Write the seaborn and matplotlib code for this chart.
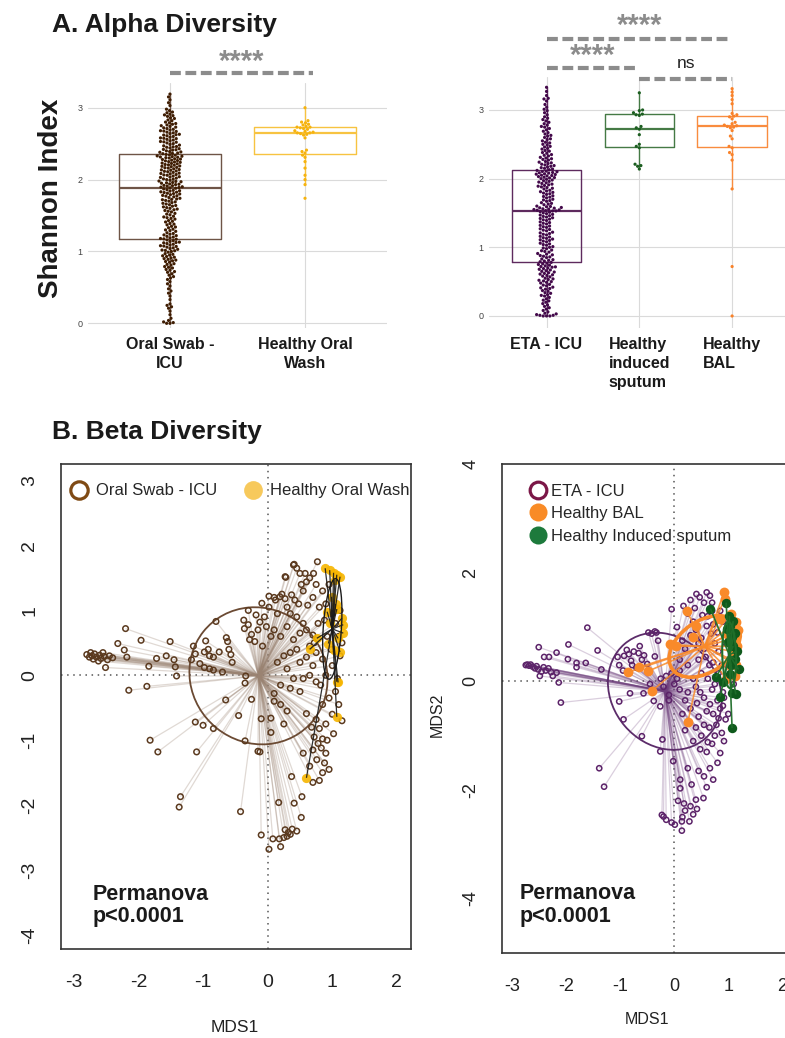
import numpy as np
import pandas as pd
import matplotlib
matplotlib.use("Agg")
import matplotlib.pyplot as plt
from matplotlib.collections import LineCollection
from matplotlib.patches import Ellipse
from matplotlib.lines import Line2D
import seaborn as sns

sns.set_style("white")
plt.rcParams["font.family"] = ["Liberation Sans", "DejaVu Sans"]

W, H = 785, 1038

# ---------------------------------------------------------------- data
oral_categories = ["Oral Swab -\nICU", "Healthy Oral\nWash"]
lower_categories = ["ETA - ICU", "Healthy\ninduced\nsputum", "Healthy\nBAL"]

shannon_oral_swab_icu = [
    0.00, 0.00, 0.01, 0.02, 0.04, 0.07, 0.12, 0.17, 0.21, 0.23,
    0.25, 0.27, 0.33, 0.38, 0.42, 0.45, 0.48, 0.52, 0.55, 0.58,
    0.61, 0.63, 0.65, 0.67, 0.69, 0.71, 0.72, 0.74, 0.75, 0.77,
    0.78, 0.79, 0.81, 0.82, 0.83, 0.85, 0.86, 0.87, 0.88, 0.89,
    0.90, 0.91, 0.92, 0.93, 0.94, 0.95, 0.96, 0.97, 0.99, 1.00,
    1.01, 1.015, 1.02, 1.03, 1.04, 1.05, 1.06, 1.07, 1.075, 1.08,
    1.09, 1.10, 1.11, 1.12, 1.125, 1.13, 1.14, 1.15, 1.16, 1.17,
    1.175, 1.18, 1.19, 1.20, 1.21, 1.22, 1.23, 1.24, 1.25, 1.26,
    1.28, 1.29, 1.30, 1.31, 1.33, 1.34, 1.35, 1.37, 1.38, 1.39,
    1.41, 1.42, 1.43, 1.45, 1.46, 1.47, 1.48, 1.49, 1.51, 1.52,
    1.53, 1.55, 1.56, 1.57, 1.58, 1.59, 1.60, 1.61, 1.62, 1.63,
    1.64, 1.65, 1.66, 1.67, 1.68, 1.69, 1.70, 1.71, 1.72, 1.725,
    1.73, 1.74, 1.75, 1.76, 1.77, 1.775, 1.78, 1.79, 1.80, 1.805,
    1.81, 1.82, 1.825, 1.83, 1.84, 1.845, 1.85, 1.86, 1.87, 1.88,
    1.885, 1.89, 1.895, 1.90, 1.91, 1.915, 1.92, 1.93, 1.935, 1.94,
    1.95, 1.955, 1.96, 1.97, 1.975, 1.98, 1.99, 2.00, 2.005, 2.01,
    2.02, 2.03, 2.035, 2.04, 2.05, 2.06, 2.065, 2.07, 2.08, 2.085,
    2.09, 2.10, 2.11, 2.115, 2.12, 2.13, 2.135, 2.14, 2.15, 2.16,
    2.165, 2.17, 2.18, 2.185, 2.19, 2.20, 2.205, 2.21, 2.22, 2.225,
    2.23, 2.24, 2.245, 2.25, 2.26, 2.265, 2.27, 2.28, 2.285, 2.29,
    2.30, 2.305, 2.31, 2.315, 2.32, 2.325, 2.33, 2.34, 2.345, 2.35,
    2.36, 2.365, 2.37, 2.38, 2.385, 2.39, 2.40, 2.41, 2.415, 2.42,
    2.43, 2.44, 2.45, 2.455, 2.46, 2.47, 2.48, 2.49, 2.50, 2.51,
    2.52, 2.525, 2.53, 2.54, 2.55, 2.56, 2.57, 2.575, 2.58, 2.59,
    2.60, 2.61, 2.62, 2.625, 2.63, 2.64, 2.65, 2.66, 2.67, 2.675,
    2.68, 2.69, 2.70, 2.71, 2.72, 2.73, 2.74, 2.75, 2.76, 2.77,
    2.78, 2.79, 2.80, 2.82, 2.83, 2.85, 2.86, 2.88, 2.89, 2.90,
    2.91, 2.93, 2.94, 2.96, 2.98, 3.03, 3.07, 3.11, 3.15, 3.19,
]
shannon_healthy_oral_wash = [
    1.74, 1.93, 2.00, 2.06, 2.16, 2.25, 2.31, 2.34, 2.37, 2.39, 2.41,
    2.58, 2.62, 2.63, 2.64, 2.65, 2.65, 2.66, 2.67, 2.68, 2.70, 2.71,
    2.72, 2.73, 2.73, 2.74, 2.76, 2.77, 2.79, 2.80, 2.82, 3.00,
]
shannon_eta_icu = [
    0.00, 0.00, 0.00, 0.01, 0.01, 0.02, 0.03, 0.04, 0.06, 0.08,
    0.10, 0.12, 0.14, 0.16, 0.18, 0.20, 0.22, 0.23, 0.25, 0.27,
    0.29, 0.30, 0.31, 0.33, 0.34, 0.36, 0.37, 0.39, 0.40, 0.41,
    0.42, 0.44, 0.45, 0.46, 0.48, 0.49, 0.50, 0.51, 0.52, 0.53,
    0.54, 0.55, 0.57, 0.58, 0.59, 0.60, 0.61, 0.62, 0.63, 0.64,
    0.65, 0.66, 0.67, 0.68, 0.69, 0.70, 0.71, 0.715, 0.72, 0.73,
    0.74, 0.75, 0.76, 0.77, 0.78,
    0.79, 0.80, 0.81, 0.82, 0.83, 0.85, 0.86, 0.87, 0.88, 0.89,
    0.90, 0.91, 0.93, 0.94, 0.95, 0.96, 0.98, 0.99, 1.00, 1.01,
    1.03, 1.04, 1.05, 1.06, 1.08, 1.09, 1.10, 1.11, 1.12, 1.13,
    1.14, 1.15, 1.16, 1.18, 1.19, 1.20, 1.21, 1.22, 1.24, 1.25,
    1.26, 1.27, 1.29, 1.30, 1.31, 1.32, 1.34, 1.35, 1.36, 1.37,
    1.39, 1.40, 1.41, 1.42, 1.43, 1.44, 1.45, 1.46, 1.47, 1.48,
    1.49, 1.50, 1.51, 1.52, 1.53,
    1.53, 1.535, 1.54, 1.545, 1.55, 1.555, 1.56, 1.57, 1.575, 1.58,
    1.59, 1.595, 1.60, 1.62, 1.63, 1.64, 1.65, 1.67, 1.68, 1.69,
    1.70, 1.72, 1.73, 1.74, 1.75, 1.77, 1.78, 1.79, 1.80, 1.81,
    1.82, 1.83, 1.85, 1.86, 1.87, 1.88, 1.89, 1.90, 1.91, 1.92,
    1.93, 1.94, 1.95, 1.96, 1.97, 1.98, 1.99, 2.00, 2.01, 2.015,
    2.02, 2.03, 2.04, 2.045, 2.05, 2.06, 2.065, 2.07, 2.08, 2.085,
    2.09, 2.10, 2.105, 2.11, 2.12,
    2.13, 2.14, 2.15, 2.16, 2.17, 2.18, 2.19, 2.20, 2.21, 2.22,
    2.23, 2.24, 2.25, 2.27, 2.28, 2.29, 2.30, 2.31, 2.33, 2.34,
    2.35, 2.37, 2.38, 2.40, 2.41, 2.43, 2.44, 2.46, 2.47, 2.49,
    2.50, 2.52, 2.53, 2.55, 2.57, 2.58, 2.60, 2.62, 2.63, 2.65,
    2.67, 2.69, 2.71, 2.73, 2.75, 2.76, 2.78, 2.80, 2.82, 2.84,
    2.86, 2.88, 2.90, 2.93, 2.96, 2.99, 3.01, 3.04, 3.08, 3.13,
    3.16, 3.17, 3.21, 3.27, 3.33,
]
shannon_healthy_sputum = [
    2.14, 2.18, 2.19, 2.21, 2.45, 2.47, 2.50, 2.64, 2.72,
    2.74, 2.76, 2.92, 2.93, 2.94, 2.96, 2.99, 3.00, 3.25,
]
shannon_healthy_bal = [
    0.00, 0.72, 1.85, 2.27, 2.35, 2.38, 2.45, 2.47, 2.58, 2.62,
    2.70, 2.74, 2.75, 2.76, 2.77, 2.78, 2.80, 2.82, 2.87, 2.90,
    2.91, 2.93, 2.95, 3.09, 3.15, 3.21, 3.26, 3.31,
]

oral_comparisons = [(0, 1, "****")]
lower_comparisons = [(0, 2, "****"), (0, 1, "****"), (1, 2, "ns")]

# MDS coordinates (MDS1, MDS2)
mds_oral_swab_icu = [
    (-2.80, 0.32), (-2.76, 0.28), (-2.74, 0.35), (-2.72, 0.30), (-2.70, 0.25),
    (-2.68, 0.33), (-2.65, 0.28), (-2.62, 0.22), (-2.60, 0.31), (-2.58, 0.26),
    (-2.55, 0.35), (-2.53, 0.29), (-2.51, 0.12), (-2.48, 0.24), (-2.45, 0.30),
    (-2.40, 0.27),
    (-2.32, 0.49), (-2.22, 0.39), (-2.20, 0.72), (-2.18, 0.28), (-2.15, -0.23),
    (-1.96, 0.54), (-1.87, -0.17), (-1.84, 0.14), (-1.72, 0.26), (-1.57, 0.30),
    (-1.51, 0.52), (-1.43, 0.13), (-1.41, -0.01), (-1.45, 0.24),
    (-1.15, 0.45), (-1.12, 0.33), (-1.18, 0.24), (-0.96, 0.53), (-0.92, 0.40),
    (-0.98, 0.36), (-0.90, 0.30), (-0.84, 0.28), (-0.75, 0.36), (-0.64, 0.58),
    (-0.62, 0.52), (-0.60, 0.40), (-0.57, 0.32), (-1.05, 0.18), (-0.98, 0.12),
    (-0.90, 0.10), (-0.84, 0.08), (-0.70, 0.05), (-0.80, 0.83), (-0.55, 0.20),
    (-0.37, 0.85), (-0.36, 0.72), (-0.30, 0.78), (-0.25, 0.63), (-0.20, 0.52),
    (-0.15, 0.70), (-0.28, 0.55), (-0.30, 1.00), (-0.09, 1.11), (-0.18, 0.93),
    (-0.12, 0.82), (-0.05, 0.90), (0.02, 1.05), (-0.02, 0.75), (0.05, 0.60),
    (-0.08, 0.45),
    (0.02, 1.22), (0.10, 1.20), (0.12, 1.16), (0.22, 1.25), (0.27, 1.18),
    (0.19, 1.21), (0.37, 1.24), (0.42, 1.16), (0.28, 1.51), (0.27, 1.52),
    (0.40, 1.70), (0.45, 1.65), (0.41, 1.71), (0.50, 1.57), (0.58, 1.57),
    (0.71, 1.57), (0.77, 1.75), (0.60, 1.44), (0.52, 1.40), (0.65, 1.50),
    (0.55, 1.30), (0.48, 1.10), (0.62, 1.08), (0.70, 1.20), (0.75, 1.40),
    (0.80, 1.05), (0.35, 0.95), (0.45, 0.90), (0.30, 1.05), (0.15, 0.95),
    (0.10, 0.70), (0.20, 0.60), (0.30, 0.75), (0.40, 0.55), (0.50, 0.65),
    (0.55, 0.80), (0.60, 0.70), (0.70, 0.62), (0.65, 0.45), (0.45, 0.40),
    (0.35, 0.35), (0.25, 0.30), (0.15, 0.20), (0.30, 0.10), (0.50, 0.20),
    (0.60, 0.28), (0.70, 0.15), (0.75, 0.35), (0.40, -0.05), (0.55, -0.05),
    (0.65, 0.00), (0.75, -0.10), (0.20, -0.15), (0.35, -0.20), (0.10, -0.28),
    (0.50, -0.25), (0.72, 0.50), (0.78, 0.80),
    (0.85, 1.30), (0.90, 1.10), (0.95, 1.40), (1.00, 0.95), (0.88, 0.85),
    (1.05, 0.80), (1.10, 0.60), (0.92, 0.60), (0.98, 0.40), (1.12, 0.30),
    (0.85, 0.25), (1.00, 0.15), (1.08, -0.05), (0.90, 0.00), (0.82, -0.15),
    (1.05, -0.25), (0.95, -0.35), (1.10, -0.45), (0.85, -0.45), (1.00, -0.60),
    (1.15, -0.70), (0.90, -0.75), (1.02, -0.90), (1.12, 1.00), (1.15, 0.50),
    (0.60, -0.59), (0.75, -0.68), (0.68, -0.80), (0.80, -0.82), (0.72, -0.95),
    (0.85, -0.98), (0.78, -1.05), (0.92, -1.00), (0.70, -1.15), (0.83, -1.12),
    (0.90, -1.20), (0.76, -1.30), (0.88, -1.35), (0.85, -1.50), (0.80, -1.62),
    (0.70, -1.65), (0.95, -1.45), (0.65, -1.40), (0.37, -1.56), (0.55, -1.20),
    (-0.34, -0.01), (-0.35, -0.12), (-0.65, -0.38), (-0.25, -0.37), (-0.45, -0.62),
    (-1.12, -0.72), (-1.00, -0.77), (-0.84, -0.82), (-0.10, -0.67), (0.05, -0.66),
    (0.05, -0.88), (-0.35, -1.01), (-0.15, -1.17), (-0.12, -1.18), (0.20, -0.45),
    (0.30, -0.55), (0.25, -0.75), (0.10, -0.40), (-1.82, -1.00), (-1.70, -1.18),
    (-1.10, -1.18),
    (-1.35, -1.87), (-1.37, -2.03), (-0.42, -2.10), (0.17, -1.96), (0.41, -1.97),
    (0.53, -1.87), (0.52, -2.19), (0.27, -2.38), (0.32, -2.42), (0.38, -2.37),
    (0.45, -2.40), (0.30, -2.48), (0.25, -2.50), (0.35, -2.45), (-0.10, -2.46),
    (0.08, -2.52), (0.20, -2.64), (0.02, -2.68), (0.18, -2.52),
]
mds_healthy_oral_wash = [
    (0.89, 1.65), (0.96, 1.62), (1.02, 1.58), (1.07, 1.55), (1.12, 1.52),
    (1.04, 1.47), (0.99, 1.21), (1.05, 1.10), (1.07, 1.02), (0.92, 0.98),
    (1.15, 0.88), (1.17, 0.78), (0.97, 0.80), (1.17, 0.65), (1.09, 0.57),
    (0.76, 0.57), (0.94, 0.49), (0.65, 0.40), (1.02, 0.39), (1.12, 0.36),
    (1.07, -0.10), (1.09, -0.11), (1.07, -0.64), (0.60, -1.58),
]
mds_eta_icu = [
    (-2.75, 0.30), (-2.72, 0.31), (-2.69, 0.29), (-2.66, 0.31), (-2.62, 0.27),
    (-2.58, 0.24), (-2.55, 0.28), (-2.52, 0.22), (-2.49, 0.10), (-2.46, 0.18),
    (-2.42, 0.26), (-2.38, 0.20), (-2.33, 0.24), (-2.28, 0.17), (-2.18, 0.16),
    (-2.25, 0.10),
    (-2.51, 0.63), (-2.41, 0.45), (-2.32, 0.45), (-2.18, 0.53), (-1.96, 0.68),
    (-1.97, 0.41), (-1.81, 0.34), (-1.64, 0.34), (-1.81, 0.26), (-1.61, 0.99),
    (-1.42, 0.57), (-1.35, 0.22), (-2.14, -0.02), (-2.10, -0.39), (-1.39, -1.60),
    (-1.30, -1.94),
    (-1.05, 0.45), (-1.02, 0.30), (-0.93, 0.47), (-0.88, 0.58), (-0.84, 0.50),
    (-0.80, 0.38), (-0.78, 0.30), (-0.75, 0.55), (-0.66, 0.52), (-0.60, 0.40),
    (-0.56, 0.48), (-0.50, 0.32), (-0.48, 0.20), (-0.64, 0.65), (-0.48, 0.90),
    (-0.42, 0.88), (-0.36, 0.92), (-0.33, 0.90), (-0.36, 0.46), (-0.30, 0.75),
    (-0.95, 0.20), (-0.70, 0.25),
    (-1.02, -0.37), (-0.82, -0.22), (-0.57, -0.22), (-0.38, -0.36), (-0.26, -0.46),
    (-0.94, -0.70), (-0.60, -1.01), (-0.22, -1.07), (-0.26, -1.29), (-0.45, -0.05),
    (-0.20, -0.10), (-0.10, -0.25),
    (-0.05, 1.33), (0.17, 1.39), (0.41, 1.61), (0.47, 1.55), (0.55, 1.45),
    (0.60, 1.64), (0.66, 1.58), (0.70, 1.45), (0.25, 1.25), (0.35, 1.10),
    (0.30, 0.85), (0.15, 0.75), (0.40, 0.95), (0.50, 0.80), (0.62, 1.20),
    (0.72, 1.05), (0.80, 0.90), (0.05, 1.00), (0.20, 0.60), (0.55, 0.60),
    (0.75, 0.70), (0.65, 0.30), (0.45, 0.40), (0.25, 0.30), (0.10, 0.40),
    (0.10, -0.15), (0.25, -0.20), (0.40, -0.10), (0.55, -0.30), (0.70, -0.15),
    (0.80, -0.35), (0.60, -0.55), (0.72, -0.60), (0.85, -0.50), (0.45, -0.65),
    (0.30, -0.50), (0.15, -0.60), (0.65, -0.85), (0.78, -0.80), (0.88, -0.95),
    (0.50, -1.00), (0.35, -1.10), (0.70, -1.15), (0.85, -1.32), (0.60, -1.30),
    (0.20, -0.90), (0.90, -0.20), (0.95, -0.70),
    (-0.02, -1.47), (0.11, -1.81), (0.32, -1.90), (0.11, -1.97), (0.72, -1.81),
    (0.54, -2.15), (0.60, -1.95), (0.45, -1.65), (0.25, -1.60), (0.07, -2.20),
    (0.18, -2.25), (0.30, -2.30), (0.40, -2.18), (0.20, -2.38), (0.35, -2.45),
    (0.15, -2.50), (0.28, -2.58), (-0.20, -2.49), (-0.23, -2.46), (-0.15, -2.55),
    (-0.05, -2.60), (0.01, -2.64), (0.14, -2.75), (0.14, -2.58), (0.42, -2.35),
    (-0.15, 0.10), (-0.05, 0.15), (0.05, 0.05), (-0.25, 0.05), (0.00, -0.05),
    (0.10, 0.20), (-0.10, -0.35), (0.20, -0.35),
    (0.85, 1.30), (0.90, 1.10), (0.95, 0.70), (1.05, 0.50), (0.88, 0.30),
    (1.00, 0.10), (1.10, -0.05), (0.92, -0.30), (1.15, 0.85), (0.82, 0.55),
    (0.30, 1.50), (0.38, 1.35), (0.52, 1.22), (0.60, 1.02), (0.68, 0.88),
    (0.45, 0.70), (0.58, 0.45), (0.72, 0.35), (0.82, 0.15), (0.50, 0.15),
    (0.35, 0.05), (0.62, 0.05), (0.75, -0.05), (0.48, -0.20), (0.66, -0.42),
    (0.42, -0.40), (0.82, -0.68), (0.55, -0.80), (0.40, -0.85), (0.75, -1.00),
    (0.92, -1.10), (0.62, -1.12), (0.48, -1.25), (0.80, -1.50), (0.66, -1.60),
    (0.55, -1.75), (0.90, -0.45), (1.00, -0.60), (0.98, 0.30), (0.70, 1.30),
]
mds_healthy_bal = [
    (0.92, 1.64), (0.93, 1.52), (0.23, 1.30), (0.41, 1.02), (0.35, 0.81),
    (-0.08, 0.68), (0.04, 0.65), (-0.85, 0.17), (-0.66, 0.26), (-0.48, 0.19),
    (-0.42, -0.18), (0.25, -0.75), (1.05, 1.25), (1.15, 1.10), (1.18, 0.95),
    (1.12, 0.80), (1.16, 0.65), (1.10, 0.55), (1.05, 0.40), (1.15, 0.30),
    (1.12, 0.10), (0.95, 0.05), (1.00, 0.85), (0.85, 1.15),
]
mds_healthy_sputum = [
    (0.67, 1.34), (0.96, 1.45), (1.02, 1.21), (1.09, 1.11), (1.03, 1.02),
    (0.97, 0.96), (1.12, 0.90), (1.06, 0.81), (1.09, 0.65), (1.00, 0.72),
    (1.16, 0.56), (1.12, 0.41), (1.05, 0.30), (1.19, 0.22), (1.03, 0.13),
    (0.77, 0.08), (0.90, -0.02), (0.85, -0.28), (1.06, -0.21), (1.14, -0.24),
    (1.07, -0.86),
]

# ---------------------------------------------------------------- layout helpers
fig = plt.figure(figsize=(W / 100, H / 100), dpi=100)


def px_axes(x0, y0, x1, y1):
    return fig.add_axes([x0 / W, 1 - y1 / H, (x1 - x0) / W, (y1 - y0) / H])


def fig_text(x, y, s, **kw):
    return fig.text(x / W, 1 - y / H, s, **kw)


# ---------------------------------------------------------------- panel A
def alpha_panel(ax, cats, values, box_colors, dot_colors, xlim, ylim, label_align):
    df = pd.DataFrame({
        "group": np.repeat(cats, [len(v) for v in values]),
        "shannon": np.concatenate([np.asarray(v, float) for v in values]),
    })
    sns.boxplot(data=df, x="group", y="shannon", hue="group", order=cats,
                hue_order=cats, palette=dict(zip(cats, box_colors)), fill=False,
                width=0.75, linewidth=1.0, showfliers=False, showcaps=False,
                medianprops={"linewidth": 1.6}, legend=False, ax=ax)
    sns.swarmplot(data=df, x="group", y="shannon", hue="group", order=cats,
                  hue_order=cats, palette=dict(zip(cats, dot_colors)), size=2.3,
                  legend=False, ax=ax, zorder=3)
    ax.set_xlim(*xlim)
    ax.set_ylim(*ylim)
    ax.set_yticks([0, 1, 2, 3])
    ax.grid(True, color="#dadada", lw=0.8)
    ax.set_axisbelow(True)
    for s in ax.spines.values():
        s.set_visible(False)
    ax.set_xlabel("")
    ax.set_ylabel("")
    ax.tick_params(axis="y", length=2.5, width=0.8, color="#555555", labelsize=6.5,
                   labelcolor="#444444", pad=1.5)
    ax.tick_params(axis="x", length=2.5, width=0.8, color="#555555", labelsize=11.5,
                   labelcolor="#1a1a1a", pad=4)
    for lbl in ax.get_xticklabels():
        lbl.set_fontweight("bold")
        lbl.set_multialignment(label_align)
        lbl.set_linespacing(1.32)


def bracket(ax, x1, x2, y, text, ty, bold=True):
    ax.plot([x1, x2], [y, y], color="#8c8c8c", lw=3.0, ls=(0, (2.6, 1.1)),
            dash_capstyle="butt", clip_on=False, zorder=5)
    if bold:
        ax.text((x1 + x2) / 2, ty, text, ha="center", va="center", fontsize=21,
                fontweight="bold", color="#8c8c8c", clip_on=False)
    else:
        ax.text((x1 + x2) / 2, ty, text, ha="center", va="center", fontsize=12.5,
                color="#222222", clip_on=False)


axA1 = px_axes(88, 83, 387, 328)
alpha_panel(axA1, oral_categories,
            [shannon_oral_swab_icu, shannon_healthy_oral_wash],
            ["#6e5446", "#f7c341"], ["#3f1d03", "#f6b30f"],
            (-0.607, 1.607), (-0.065, 3.344), "center")
for g1, g2, lab in oral_comparisons:
    bracket(axA1, g1, g2 + 0.06, 3.48, lab, 3.64)

axA2 = px_axes(489, 77, 785, 328)
alpha_panel(axA2, lower_categories,
            [shannon_eta_icu, shannon_healthy_sputum, shannon_healthy_bal],
            ["#5e2a5e", "#457a45", "#f98c3f"], ["#43094a", "#1c5e20", "#f9822a"],
            (-0.62, 2.57), (-0.175, 3.48), "left")
lower_levels = [(4.03, 4.22), (3.61, 3.79), (3.45, 3.68)]
for (g1, g2, lab), (yl, yt) in zip(lower_comparisons, lower_levels):
    bracket(axA2, g1, g2, yl, lab, yt, bold=(lab != "ns"))

fig_text(52, 31.7, "A. Alpha Diversity", fontsize=19, fontweight="bold",
         va="baseline", ha="left", color="#1a1a1a")
fig_text(51, 198, "Shannon Index", rotation=90, fontsize=20, fontweight="bold",
         ha="center", va="center", color="#1a1a1a")

# ---------------------------------------------------------------- panel B
def spider_and_ellipse(ax, xy, line_color, line_alpha, line_w, ell_color, ell_w, z):
    c = xy.mean(axis=0)
    segs = [[c, p] for p in xy]
    ax.add_collection(LineCollection(segs, colors=line_color, alpha=line_alpha,
                                     linewidths=line_w, zorder=z))
    vals, vecs = np.linalg.eigh(np.cov(xy.T))
    order = vals.argsort()[::-1]
    vals, vecs = vals[order], vecs[:, order]
    angle = np.degrees(np.arctan2(vecs[1, 0], vecs[0, 0]))
    ax.add_patch(Ellipse(c, 2 * np.sqrt(vals[0]), 2 * np.sqrt(vals[1]), angle=angle,
                         fill=False, ec=ell_color, lw=ell_w, zorder=z + 0.1))


def frame_panel(ax, xlim, ylim, xticks, yticks, tick_size):
    ax.set_xlim(*xlim)
    ax.set_ylim(*ylim)
    ax.axhline(0, color="#555555", lw=1.1, ls=(0, (1, 3)), zorder=0.5)
    ax.axvline(0, color="#555555", lw=1.1, ls=(0, (1, 3)), zorder=0.5)
    ax.set_xticks(xticks)
    ax.set_yticks(yticks)
    ax.set_xticklabels([f"{t:d}" for t in xticks])
    ax.set_yticklabels([f"{t:d}" for t in yticks])
    ax.tick_params(direction="out", length=8, width=1.1, color="#333333",
                   labelsize=tick_size, labelcolor="#222222")
    ax.tick_params(axis="x", pad=10)
    ax.tick_params(axis="y", pad=8)
    for lbl in ax.get_yticklabels():
        lbl.set_rotation(90)
        lbl.set_va("center")
    for s in ax.spines.values():
        s.set_color("#333333")
        s.set_linewidth(1.2)
    ax.set_xlabel("")
    ax.set_ylabel("")


def points(ax, xy, face, edge, size, lw, z, alpha=1.0):
    sns.scatterplot(x=xy[:, 0], y=xy[:, 1], ax=ax, s=size, color=edge,
                    facecolor=face, edgecolor=edge, linewidth=lw, alpha=alpha,
                    zorder=z, legend=False)


swab = np.array(mds_oral_swab_icu)
wash = np.array(mds_healthy_oral_wash)
eta = np.array(mds_eta_icu)
bal = np.array(mds_healthy_bal)
sputum = np.array(mds_healthy_sputum)

axB1 = px_axes(60.7, 464, 410.7, 949)
frame_panel(axB1, (-3.204, 2.214), (-4.217, 3.256), list(range(-3, 3)),
            list(range(-4, 4)), 14)
spider_and_ellipse(axB1, swab, "#9a8372", 0.3, 0.9, "#6b4a33", 1.3, 1)
points(axB1, swab, "none", "#5b3a1f", 16, 1.1, 2)
points(axB1, wash, "#f6b500", "#f6b500", 44, 0, 3, alpha=0.9)
spider_and_ellipse(axB1, wash, "#1a1a1a", 0.9, 0.9, "#1a1a1a", 1.0, 4)
axB1.legend(handles=[
    Line2D([], [], ls="", marker="o", ms=12.5, mfc="none", mec="#7f4a14", mew=2.3),
    Line2D([], [], ls="", marker="o", ms=13.5, mfc="#f7c95c", mec="#f7c95c", mew=0),
], labels=["Oral Swab - ICU", "Healthy Oral Wash"], loc="upper left",
    bbox_to_anchor=(0.0274, 0.960), ncol=2, frameon=False, fontsize=12,
    handlelength=1.0, handletextpad=0.56, columnspacing=1.6, borderpad=0,
    borderaxespad=0)
axB1.text(0.09, 0.135, "Permanova\np<0.0001", transform=axB1.transAxes,
          fontsize=15.5, fontweight="bold", ha="left", va="top", color="#1a1a1a",
          linespacing=1.1)

axB2 = px_axes(501.7, 464.3, 793.1, 953.3)
frame_panel(axB2, (-3.196, 2.2), (-5.01, 4.0), list(range(-3, 3)),
            [-4, -2, 0, 2, 4], 13)
spider_and_ellipse(axB2, eta, "#6e3f7c", 0.25, 0.9, "#5c2c6a", 1.3, 1)
points(axB2, eta, "none", "#5c2369", 14, 1.1, 2)
points(axB2, bal, "#fa8a2a", "#fa8a2a", 50, 0, 3)
spider_and_ellipse(axB2, bal, "#f98a2a", 0.85, 1.2, "#f98a2a", 2.6, 3.5)
points(axB2, sputum, "#0f5a1c", "#0f5a1c", 46, 0, 4)
spider_and_ellipse(axB2, sputum, "#1f6e2a", 0.95, 1.2, "#1f6e2a", 1.5, 4.5)
axB2.legend(handles=[
    Line2D([], [], ls="", marker="o", ms=12, mfc="none", mec="#7b1747", mew=2.3),
    Line2D([], [], ls="", marker="o", ms=13, mfc="#f98b26", mec="#f98b26", mew=0),
    Line2D([], [], ls="", marker="o", ms=13, mfc="#1d7a3c", mec="#1d7a3c", mew=0),
], labels=["ETA - ICU", "Healthy BAL", "Healthy Induced sputum"], loc="upper left",
    bbox_to_anchor=(0.096, 0.960), frameon=False, fontsize=12, handlelength=1.0,
    handletextpad=0.28, labelspacing=0.44, borderpad=0, borderaxespad=0)
axB2.text(0.061, 0.143, "Permanova\np<0.0001", transform=axB2.transAxes,
          fontsize=15.5, fontweight="bold", ha="left", va="top", color="#1a1a1a",
          linespacing=1.1)

fig_text(52, 439.3, "B. Beta Diversity", fontsize=19, fontweight="bold",
         va="baseline", ha="left", color="#1a1a1a")
fig_text(235, 1028, "MDS1", fontsize=12.5, ha="center", va="center", color="#222222")
fig_text(647, 1020, "MDS1", fontsize=11.5, ha="center", va="center", color="#222222")
fig_text(437, 715, "MDS2", fontsize=11.5, rotation=90, ha="center", va="center",
         color="#222222")

fig.savefig("out.png", dpi=100)
